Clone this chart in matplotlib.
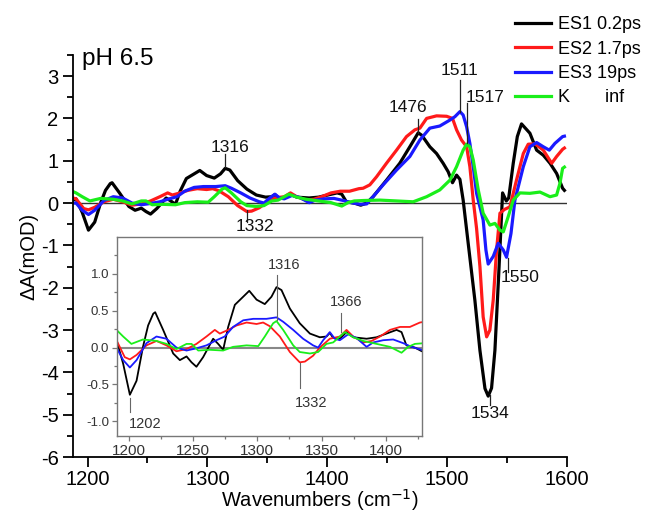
import matplotlib
matplotlib.use("Agg")
import matplotlib.pyplot as plt

plt.rcParams['font.family'] = ['Liberation Sans', 'DejaVu Sans']
plt.rcParams['axes.unicode_minus'] = False

# ---------------- data ----------------
es1_x = [1188, 1190.4, 1195.6, 1200.8, 1206, 1211, 1215, 1219, 1220.5, 1226.7, 1234.5, 1239.7, 1244.9, 1248.8,
         1252.6, 1257.8, 1265.6, 1269.5, 1273.4, 1277.3, 1282.5, 1289, 1293.7, 1299.4, 1305.8, 1311, 1314.9,
         1318.8, 1325.3, 1333, 1340.9, 1348.6, 1353.8, 1356.4, 1359, 1364.2, 1369.4, 1374.6, 1385, 1392.8,
         1400.5, 1408.3, 1412.2, 1416, 1422.6, 1428, 1433, 1438.3, 1449.5, 1460.6, 1469, 1476, 1479, 1485.7,
         1491.3, 1496.8, 1501, 1504.6, 1508, 1510.8, 1513.5, 1517.7, 1523.3, 1527.5, 1531.7, 1534.4, 1537.2,
         1540, 1542.8, 1544.8, 1546.4, 1549.5, 1551.5, 1555.3, 1558.7, 1562.2, 1569.2, 1574.8, 1580.4, 1586,
         1591.5, 1596.5, 1598]
es1_y = [0.07, 0.10, -0.22, -0.64, -0.45, 0.01, 0.30, 0.46, 0.48, 0.24, -0.08, -0.17, -0.12, -0.20,
         -0.26, -0.13, 0.12, 0.05, -0.03, 0.28, 0.58, 0.69, 0.77, 0.65, 0.59, 0.69, 0.82,
         0.78, 0.53, 0.33, 0.19, 0.14, 0.15, 0.20, 0.13, 0.12, 0.21, 0.14, 0.12, 0.14,
         0.19, 0.24, 0.21, 0.03, 0.0, -0.05, 0.0, 0.15, 0.54, 0.94, 1.33, 1.66, 1.60, 1.33,
         1.17, 0.94, 0.74, 0.48, 0.66, 0.56, 0.07, -0.95, -2.30, -3.48, -4.38, -4.56, -4.37,
         -3.48, -1.90, -0.72, 0.24, 0.05, 0.12, 0.94, 1.57, 1.87, 1.65, 1.25, 1.13, 0.94,
         0.70, 0.35, 0.30]

es2_x = [1188, 1190.4, 1196.8, 1200.8, 1206, 1213.7, 1221.5, 1229.3, 1237.1, 1244.9, 1252.6, 1260.4, 1266.9,
         1270.8, 1277.3, 1283.8, 1291.6, 1299.4, 1304.5, 1309.7, 1317.5, 1325.3, 1333, 1337, 1343.4, 1348.6,
         1356.4, 1364.2, 1369.4, 1374.6, 1382.4, 1388.9, 1395.4, 1403.2, 1411, 1418.7, 1426.5, 1430, 1435.6,
         1441.2, 1449.5, 1457.9, 1466.2, 1473.2, 1477.4, 1483, 1491.3, 1499.7, 1504.6, 1508, 1512.1, 1516.4,
         1519.1, 1521.9, 1524.7, 1527.5, 1530.2, 1533.1, 1535.8, 1538.6, 1541.4, 1544.2, 1548, 1552.5, 1558,
         1563.7, 1567.8, 1573.4, 1580.4, 1587.4, 1591.5, 1596.5, 1598]
es2_y = [0.12, 0.10, -0.13, -0.16, -0.10, 0.03, 0.09, 0.03, -0.05, -0.02, 0.05, 0.15, 0.24,
         0.19, 0.24, 0.30, 0.34, 0.32, 0.34, 0.29, 0.15, -0.06, -0.20, -0.19, -0.11, 0.0,
         0.12, 0.15, 0.24, 0.15, 0.07, 0.09, 0.15, 0.24, 0.28, 0.28, 0.34, 0.35, 0.43,
         0.62, 0.94, 1.25, 1.57, 1.73, 1.77, 2.00, 2.06, 2.05, 2.00, 1.73, 1.49, 1.33,
         0.86, 0.07, -0.60, -1.50, -2.69, -3.16, -3.00, -2.29, -1.11, -0.24, -0.15, -0.09, 0.54,
         1.17, 1.39, 1.40, 1.25, 0.94, 1.10, 1.27, 1.30]

es3_x = [1188, 1190.4, 1195.6, 1200.8, 1206, 1213.7, 1221.5, 1229.3, 1237.1, 1244.9, 1252.6, 1260.4, 1268.2,
         1274.6, 1281.1, 1289, 1296.8, 1307.1, 1314.9, 1320.1, 1327.9, 1335.6, 1343.4, 1347.3, 1351.2, 1356.4,
         1360.3, 1364.2, 1370.7, 1377.2, 1385, 1390.2, 1397.9, 1405.7, 1413.5, 1420, 1427.7, 1433, 1438.3,
         1446.7, 1457.9, 1469, 1477.4, 1485.7, 1494, 1502.4, 1506.6, 1510.8, 1513.5, 1516.4, 1519.1, 1521.9,
         1524.7, 1530.2, 1532.5, 1534.4, 1538.6, 1542.8, 1547, 1549.7, 1553.4, 1556.7, 1563.7, 1569.2, 1574.8,
         1580.4, 1585.4, 1590.1, 1596.5, 1598]
es3_y = [0.0, 0.0, -0.17, -0.27, -0.17, 0.06, 0.15, 0.12, 0.0, -0.04, -0.01, 0.03, 0.10,
         0.15, 0.28, 0.37, 0.39, 0.39, 0.41, 0.35, 0.24, 0.12, 0.03, 0.0, 0.10, 0.21,
         0.12, 0.10, 0.18, 0.13, 0.01, 0.07, 0.10, 0.11, 0.06, 0.01, -0.03, -0.02, 0.15,
         0.43, 0.78, 1.10, 1.49, 1.77, 1.82, 1.96, 2.04, 2.16, 2.08, 1.80, 1.41, 0.86,
         0.23, -0.40, -1.11, -1.44, -1.26, -0.95, -1.11, -1.28, -0.72, 0.07, 0.86, 1.33, 1.43,
         1.33, 1.25, 1.41, 1.57, 1.58]

k_x = [1188, 1190.4, 1195.6, 1202, 1211, 1221.5, 1229.3, 1237.1, 1244.9, 1248.8, 1254, 1263, 1273.4, 1281.1,
       1291.6, 1300.7, 1305.8, 1312.3, 1314.9, 1320.1, 1327.9, 1333, 1340.9, 1347.3, 1353.8, 1359, 1364.2,
       1368.1, 1374.6, 1382.4, 1392.8, 1403.2, 1412.2, 1417.4, 1422.6, 1430, 1444, 1471.8, 1483, 1494,
       1502.4, 1508, 1513.5, 1516.4, 1519.1, 1521.9, 1526.1, 1530.2, 1535.8, 1540, 1544.2, 1547, 1551.1,
       1555.3, 1560.9, 1569.2, 1577.6, 1586, 1591.5, 1594.3, 1596.5, 1598]
k_y = [0.27, 0.24, 0.15, 0.05, 0.11, 0.09, 0.05, -0.02, 0.05, 0.05, -0.04, -0.03, -0.04, 0.01,
       0.03, 0.02, 0.15, 0.33, 0.36, 0.24, 0.03, -0.06, -0.08, -0.06, 0.05, 0.07, 0.15,
       0.21, 0.14, 0.09, 0.05, 0.01, -0.07, 0.01, 0.05, 0.06, 0.07, 0.03, 0.15, 0.31,
       0.54, 0.86, 1.25, 1.39, 1.33, 1.02, 0.31, -0.24, -0.52, -0.48, -0.64, -0.68, -0.32,
       0.07, 0.24, 0.23, 0.26, 0.15, 0.19, 0.47, 0.82, 0.85]

series_x = [es1_x, es2_x, es3_x, k_x]
series_y = [es1_y, es2_y, es3_y, k_y]
series_labels = ["ES1 0.2ps", "ES2 1.7ps", "ES3 19ps", "K       inf"]
series_colors = ["#000000", "#ff1a1a", "#1a1aff", "#1aee1a"]

# peak labels: (text, x, line_y0, line_y1, text_x, text_y)
main_peaks = [("1316", 1314.5, 0.85, 1.15, 1319, 1.32),
              ("1332", 1332.8, -0.17, -0.45, 1339.5, -0.56),
              ("1476", 1475.7, 1.65, 1.99, 1467, 2.25),
              ("1511", 1510.8, 2.15, 2.91, 1510.8, 3.14),
              ("1517", 1516.6, 1.42, 2.36, 1531.7, 2.5),
              ("1534", 1535.8, -4.54, -4.78, 1535.8, -4.96),
              ("1550", 1550.6, -1.30, -1.63, 1561, -1.75)]
inset_peaks = [("1316", 1315.5, 0.37, 0.99, 1321, 1.12),
               ("1366", 1365, 0.21, 0.47, 1369, 0.62),
               ("1332", 1333, -0.21, -0.55, 1342, -0.75),
               ("1202", 1201, -0.68, -0.88, 1212.5, -1.03)]

main_yticks = [-6, -5, -4, -3, -2, -1, 0, 1, 2, 3]
main_xticks = [1200, 1300, 1400, 1500, 1600]
inset_xticks = [1200, 1250, 1300, 1350, 1400]
inset_yticks = [-1.0, -0.5, 0.0, 0.5, 1.0]

# ---------------- figure ----------------
fig = plt.figure(figsize=(6.53, 5.13), dpi=100)
ax = fig.add_axes([0.112, 0.109, 0.756, 0.784])

ax.axhline(0, color="#333333", lw=1.0, zorder=1)
for xs, ys, c, lab in zip(series_x, series_y, series_colors, series_labels):
    ax.plot(xs, ys, color=c, lw=2.3, label=lab, solid_joinstyle="round", zorder=2)

ax.set_xlim(1188, 1600)
ax.set_ylim(-6, 3.5)
for s in ["top", "right"]:
    ax.spines[s].set_visible(False)
for s in ["left", "bottom"]:
    ax.spines[s].set_linewidth(1.3)
ax.set_xticks(main_xticks)
ax.set_xticks([1250, 1350, 1450, 1550], minor=True)
ax.set_yticks(main_yticks)
ax.set_yticks([v + 0.5 for v in main_yticks], minor=True)
ax.tick_params(which="major", direction="out", length=7, width=1.3, labelsize=14.5)
ax.tick_params(axis="x", which="major", pad=2)
ax.tick_params(which="minor", direction="out", length=4, width=1.3)
ax.set_xlabel("Wavenumbers (cm$^{-1}$)", fontsize=14.5, labelpad=-1)
ax.set_ylabel("\u0394A(mOD)", fontsize=14.5, labelpad=2)
ax.text(1195.8, 3.26, "pH 6.5", fontsize=17.5, va="baseline", ha="left")

for txt, x, y0, y1, tx, ty in main_peaks:
    ax.plot([x, x], [y0, y1], color="#222222", lw=0.9, zorder=3)
    ax.text(tx, ty, txt, fontsize=12.5, ha="center", va="center", color="#111111")

leg = ax.legend(loc="upper left", bbox_to_anchor=(0.789, 0.968), bbox_transform=fig.transFigure,
                frameon=False, fontsize=13, handlelength=2.0, handletextpad=0.35,
                labelspacing=0.40, borderpad=0, borderaxespad=0)

# ---------------- inset ----------------
ins = fig.add_axes([0.179, 0.150, 0.467, 0.388])
ins.set_facecolor("white")
ins.axhline(0, color="#888888", lw=1.5, zorder=1)
for xs, ys, c in zip(series_x, series_y, series_colors):
    ins.plot(xs, ys, color=c, lw=1.3, zorder=2)
ins.set_xlim(1190.7, 1428)
ins.set_ylim(-1.2, 1.5)
for s in ins.spines.values():
    s.set_color("#777777")
    s.set_linewidth(1.0)
ins.set_xticks(inset_xticks)
ins.set_xticks([1225, 1275, 1325, 1375, 1425], minor=True)
ins.set_yticks(inset_yticks)
ins.set_yticklabels(["-1.0", "-0.5", "0.0", "0.5", "1.0"])
ins.set_yticks([-0.75, -0.25, 0.25, 0.75, 1.25], minor=True)
ins.tick_params(which="major", direction="out", length=3.5, width=0.9, color="#777777",
                labelcolor="#333333", pad=2)
ins.tick_params(axis="x", which="major", labelsize=11)
ins.tick_params(axis="y", which="major", labelsize=9.5)
ins.tick_params(which="minor", direction="out", length=2, width=0.9, color="#777777")
for txt, x, y0, y1, tx, ty in inset_peaks:
    ins.plot([x, x], [y0, y1], color="#666666", lw=0.8, zorder=3)
    ins.text(tx, ty, txt, fontsize=10.5, ha="center", va="center", color="#333333")

fig.savefig("out.png", dpi=100)
